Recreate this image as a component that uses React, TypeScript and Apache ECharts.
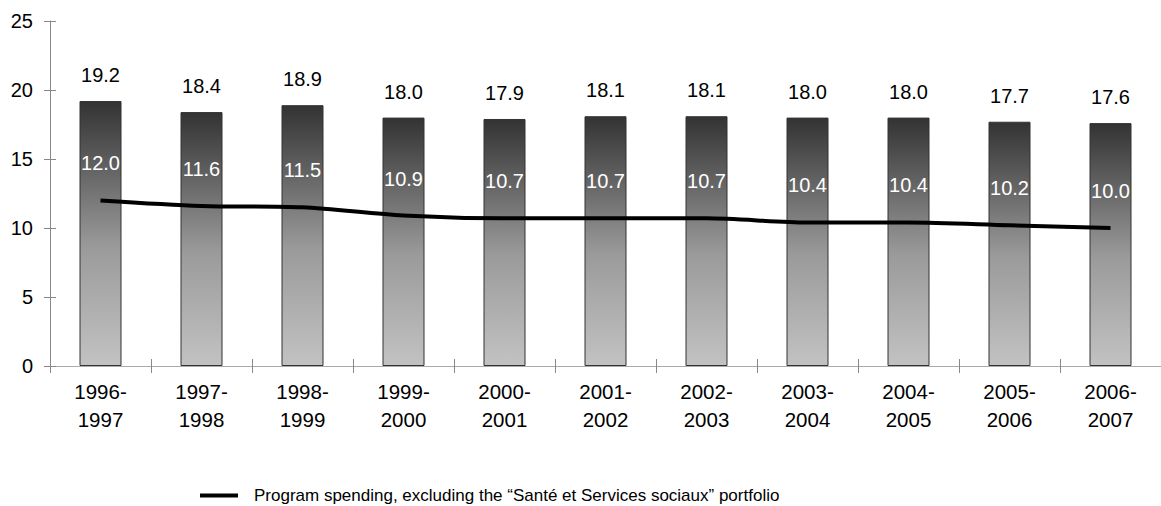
import React, { useEffect, useRef } from "react";
import * as echarts from "echarts";

const categories = ["1996-\n1997", "1997-\n1998", "1998-\n1999", "1999-\n2000", "2000-\n2001", "2001-\n2002", "2002-\n2003", "2003-\n2004", "2004-\n2005", "2005-\n2006", "2006-\n2007"];
const totalSpending = [19.2, 18.4, 18.9, 18.0, 17.9, 18.1, 18.1, 18.0, 18.0, 17.7, 17.6];
const programSpending = [12.0, 11.6, 11.5, 10.9, 10.7, 10.7, 10.7, 10.4, 10.4, 10.2, 10.0];
const lineName = "Program spending, excluding the \u201CSant\u00E9 et Services sociaux\u201D portfolio";

const FONT = "Liberation Sans, Arial, sans-serif";

export default function App() {
  const ref = useRef<HTMLDivElement>(null);
  useEffect(() => {
    if (!ref.current) return;
    const chart = echarts.init(ref.current, null, { renderer: "svg" });
    chart.setOption({
      animation: false,
      textStyle: { fontFamily: FONT },
      grid: { left: 50, right: -6, top: 21, bottom: 140 },
      legend: {
        left: 195,
        top: 482,
        icon: "rect",
        itemWidth: 38,
        itemHeight: 4,
        itemGap: 10,
        data: [{ name: lineName, itemStyle: { color: "#000" } }],
        textStyle: { fontSize: 17, color: "#000", fontFamily: FONT, padding: [0, 0, 0, 11] },
      },
      xAxis: [
        {
          type: "category",
          data: categories,
          axisLine: { lineStyle: { color: "#aaa", width: 1 } },
          axisTick: { show: true, length: 7, lineStyle: { color: "#888" } },
          axisLabel: { color: "#000", fontSize: 20.5, lineHeight: 28, margin: 11, fontFamily: FONT },
        },
        {
          type: "category",
          data: categories,
          position: "bottom",
          axisLine: { show: false },
          axisTick: { show: true, inside: true, length: 7, lineStyle: { color: "#888" } },
          axisLabel: { show: false },
        },
      ],
      yAxis: [
        {
          type: "value",
          min: 0,
          max: 25,
          interval: 5,
          splitLine: { show: false },
          axisLine: { show: true, lineStyle: { color: "#888" } },
          axisTick: { show: true, length: 6, lineStyle: { color: "#888" } },
          axisLabel: { color: "#000", fontSize: 20, margin: 17, fontFamily: FONT },
        },
        {
          type: "value",
          min: 0,
          max: 25,
          interval: 5,
          position: "left",
          splitLine: { show: false },
          axisLine: { show: false },
          axisTick: { show: true, inside: true, length: 6, lineStyle: { color: "#888" } },
          axisLabel: { show: false },
        },
      ],
      series: [
        {
          type: "bar",
          name: "Total",
          data: totalSpending,
          barWidth: 42,
          itemStyle: {
            borderColor: "#333",
            borderWidth: 1,
            color: new echarts.graphic.LinearGradient(0, 0, 0, 1, [
              { offset: 0, color: "#333333" },
              { offset: 0.55, color: "#9a9a9a" },
              { offset: 1, color: "#c2c2c2" },
            ]),
          },
          label: {
            show: true,
            position: "top",
            distance: 16,
            color: "#000",
            fontSize: 20,
            fontFamily: FONT,
            formatter: (p: any) => Number(p.value).toFixed(1),
          },
        },
        {
          type: "line",
          name: lineName,
          data: programSpending,
          smooth: 0.3,
          showSymbol: true,
          symbol: "circle",
          symbolSize: 0.1,
          lineStyle: { color: "#000", width: 4 },
          itemStyle: { color: "#000" },
          label: {
            show: true,
            position: "top",
            distance: 27,
            color: "#fff",
            fontSize: 20,
            fontFamily: FONT,
            formatter: (p: any) => Number(p.value).toFixed(1),
          },
          z: 5,
        },
      ],
    });
    return () => chart.dispose();
  }, []);
  return (
    <div
      ref={ref}
      style={{ position: "fixed", left: 0, top: 0, width: 1161, height: 506, background: "#fff" }}
    />
  );
}
